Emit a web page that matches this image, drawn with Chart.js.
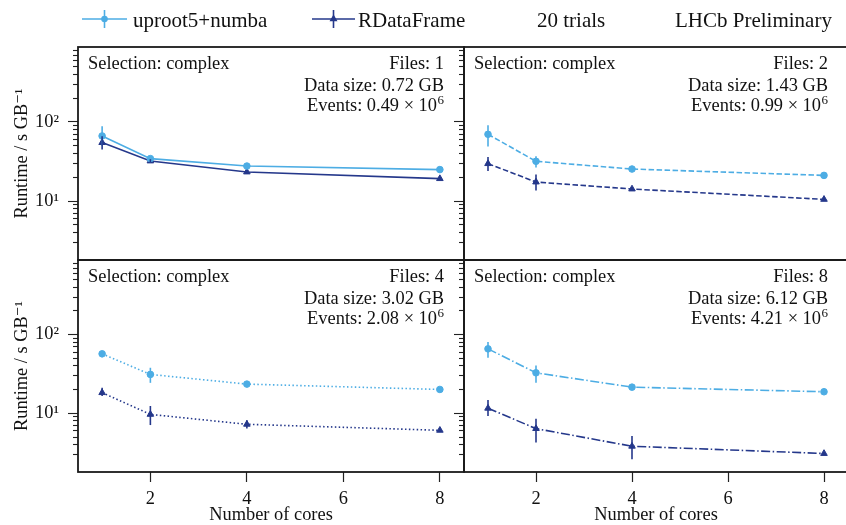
<!DOCTYPE html>
<html><head><meta charset="utf-8">
<script src="https://cdn.jsdelivr.net/npm/chart.js@4.4.1/dist/chart.umd.min.js"></script>
<style>
html,body{margin:0;padding:0;background:#fff;overflow:hidden;width:846px;height:525px;position:relative;}
canvas{position:absolute;}
</style></head><body>
<canvas id="c1" width="846" height="265" style="left:0px;top:0px"></canvas>
<canvas id="c2" width="410" height="225" style="left:440px;top:40px"></canvas>
<canvas id="c3" width="470" height="271" style="left:0px;top:255px"></canvas>
<canvas id="c4" width="410" height="271" style="left:440px;top:255px"></canvas>
<script>
// ---- data ----
const cores = [1, 2, 4, 8];
const xTickValues = [2, 4, 6, 8];
const seriesNames = ['uproot5+numba', 'RDataFrame'];
const extraLabels = ['20 trials', 'LHCb Preliminary'];
const selectionLabel = 'Selection: complex';
const panelFiles = [1, 2, 4, 8];
const panelDataSize = ['0.72', '1.43', '3.02', '6.12'];
const panelEvents = ['0.49', '0.99', '2.08', '4.21'];

const uprootP1 = [66.5, 34.4, 27.7, 25.0];
const uprootP1Low = [50, 32.5, 26.8, 24.4];
const uprootP1High = [88, 36.3, 28.6, 25.6];
const rdfP1 = [54.8, 32.1, 23.3, 19.2];
const rdfP1Low = [45, 30.5, 22.4, 18.7];
const rdfP1High = [66, 33.8, 24.3, 19.7];

const uprootP2 = [69.8, 31.8, 25.4, 21.1];
const uprootP2Low = [49, 26.5, 24.4, 20.5];
const uprootP2High = [91, 36.9, 26.4, 21.7];
const rdfP2 = [29.7, 17.4, 14.2, 10.5];
const rdfP2Low = [23.9, 13.6, 13.6, 10.1];
const rdfP2High = [36.1, 21.6, 14.8, 10.9];

const uprootP3 = [57, 31.2, 23.5, 20.1];
const uprootP3Low = [51.6, 24.4, 22.4, 19.6];
const uprootP3High = [61.3, 37.9, 24.6, 20.6];
const rdfP3 = [18.3, 9.7, 7.26, 6.09];
const rdfP3Low = [16.6, 7.1, 6.4, 5.9];
const rdfP3High = [21.1, 12.4, 8.2, 6.3];

const uprootP4 = [65.9, 32.7, 21.5, 18.8];
const uprootP4Low = [50.7, 24.5, 20.5, 18.3];
const uprootP4High = [80.8, 40.5, 22.5, 19.3];
const rdfP4 = [11.6, 6.4, 3.82, 3.09];
const rdfP4Low = [9.25, 4.25, 2.62, 3.0];
const rdfP4High = [14.8, 8.56, 5.16, 3.2];

// ---- styles ----
const SERIF = "'Liberation Serif', 'Times New Roman', 'DejaVu Serif', serif";
const UP = '#4DADE4';
const RD = '#25388B';
const INK = '#111111';
Chart.defaults.font.family = SERIF;
Chart.defaults.font.size = 18.4;
Chart.defaults.color = INK;

const SUP = {'0':'⁰','1':'¹','2':'²','3':'³','4':'⁴','5':'⁵','6':'⁶','7':'⁷','8':'⁸','9':'⁹','-':'⁻'};
function sup(n){ return String(n).split('').map(c => SUP[c] || c).join(''); }
function isPow10(v){ const l = Math.log10(v); return Math.abs(l - Math.round(l)) < 1e-9; }
function isDecadeMultiple(v){
  const p = Math.pow(10, Math.floor(Math.log10(v) + 1e-9));
  const m = v / p;
  return Math.abs(m - Math.round(m)) < 1e-6;
}

const framePlugin = {
  id: 'frame',
  afterDraw(chart){
    const a = chart.chartArea, ctx = chart.ctx;
    ctx.save();
    ctx.strokeStyle = '#1a1a1a';
    ctx.lineWidth = 1.8;
    ctx.setLineDash([]);
    ctx.strokeRect(a.left, a.top, a.right - a.left, a.bottom - a.top);
    ctx.restore();
  }
};

const errorBarPlugin = {
  id: 'errorBars',
  afterDatasetsDraw(chart){
    const ctx = chart.ctx, xs = chart.scales.x, ys = chart.scales.y;
    ctx.save();
    chart.data.datasets.forEach(ds => {
      ctx.strokeStyle = ds.borderColor;
      ctx.lineWidth = 1.6;
      ctx.setLineDash([]);
      ds.data.forEach((pt, i) => {
        const x = xs.getPixelForValue(pt.x);
        ctx.beginPath();
        ctx.moveTo(x, ys.getPixelForValue(ds.errLow[i]));
        ctx.lineTo(x, ys.getPixelForValue(ds.errHigh[i]));
        ctx.stroke();
      });
    });
    ctx.restore();
  }
};

const panelTextPlugin = {
  id: 'panelText',
  afterDraw(chart, args, opts){
    const i = opts.index;
    const a = chart.chartArea, ctx = chart.ctx;
    ctx.save();
    ctx.fillStyle = INK;
    ctx.textBaseline = 'alphabetic';
    ctx.font = '18.4px ' + SERIF;
    ctx.textAlign = 'left';
    ctx.fillText(selectionLabel, a.left + 10, a.top + 22);
    ctx.textAlign = 'right';
    const rx = a.right - 20;
    ctx.fillText('Files: ' + panelFiles[i], rx, a.top + 22);
    ctx.fillText('Data size: ' + panelDataSize[i] + ' GB', rx, a.top + 43.5);
    ctx.font = '13px ' + SERIF;
    const ws = ctx.measureText('6').width;
    ctx.fillText('6', rx, a.top + 64 - 7.5);
    ctx.font = '18.4px ' + SERIF;
    ctx.fillText('Events: ' + panelEvents[i] + ' × 10', rx - ws - 0.5, a.top + 64);
    ctx.restore();
  }
};

const legendPlugin = {
  id: 'topLegend',
  afterDraw(chart, args, opts){
    if (!opts.show) return;
    const ctx = chart.ctx;
    const ds = chart.data.datasets;
    const items = [
      {x0: 82, x1: 127, tx: 133, d: ds[0]},
      {x0: 312, x1: 355, tx: 358, d: ds[1]}
    ];
    ctx.save();
    const y = 19;
    items.forEach(it => {
      const c = it.d.borderColor;
      const mx = (it.x0 + it.x1) / 2;
      ctx.strokeStyle = c; ctx.fillStyle = c; ctx.lineWidth = 1.6; ctx.setLineDash([]);
      ctx.beginPath(); ctx.moveTo(it.x0, y); ctx.lineTo(it.x1, y); ctx.stroke();
      ctx.beginPath(); ctx.moveTo(mx, y - 9); ctx.lineTo(mx, y + 9); ctx.stroke();
      Chart.helpers.drawPoint(ctx, {pointStyle: it.d.pointStyle, radius: it.d.pointRadius - 0.8, rotation: 0, borderWidth: 1}, mx, y);
      ctx.fillStyle = INK;
      ctx.font = '21px ' + SERIF;
      ctx.textAlign = 'left'; ctx.textBaseline = 'alphabetic';
      ctx.fillText(it.d.label, it.tx, 26.5);
    });
    ctx.fillStyle = INK;
    ctx.font = '21px ' + SERIF;
    ctx.fillText(extraLabels[0], 537, 26.5);
    ctx.fillText(extraLabels[1], 675, 26.5);
    ctx.restore();
  }
};

const panels = [
  {id: 'c1', up: uprootP1, upLo: uprootP1Low, upHi: uprootP1High, rd: rdfP1, rdLo: rdfP1Low, rdHi: rdfP1High,
   left: true, bottom: false, padding: {left: 0, top: 47, right: 382, bottom: 5}, dash: [], legend: true},
  {id: 'c2', up: uprootP2, upLo: uprootP2Low, upHi: uprootP2High, rd: rdfP2, rdLo: rdfP2Low, rdHi: rdfP2High,
   left: false, bottom: false, padding: {left: 0, top: 7, right: 2, bottom: 5}, dash: [5.5, 2.5], legend: false},
  {id: 'c3', up: uprootP3, upLo: uprootP3Low, upHi: uprootP3High, rd: rdfP3, rdLo: rdfP3Low, rdHi: rdfP3High,
   left: true, bottom: true, padding: {left: 0, top: 5, right: 6, bottom: 0}, dash: [1.5, 2.4], legend: false},
  {id: 'c4', up: uprootP4, upLo: uprootP4Low, upHi: uprootP4High, rd: rdfP4, rdLo: rdfP4Low, rdHi: rdfP4High,
   left: false, bottom: true, padding: {left: 0, top: 5, right: 2, bottom: 0}, dash: [9, 2.5, 1.5, 2.5], legend: false}
];

function zeroPad(s){ s.paddingLeft = 0; s.paddingRight = 0; s.paddingTop = 0; s.paddingBottom = 0; }

panels.forEach((p, idx) => {
  new Chart(document.getElementById(p.id), {
    type: 'line',
    data: {
      datasets: [
        {label: seriesNames[0], data: cores.map((c, i) => ({x: c, y: p.up[i]})), errLow: p.upLo, errHigh: p.upHi,
         borderColor: UP, backgroundColor: UP, pointBackgroundColor: UP, pointBorderColor: UP,
         pointStyle: 'circle', pointRadius: 3.3, pointBorderWidth: 1, borderWidth: 1.6, borderDash: p.dash, tension: 0, fill: false},
        {label: seriesNames[1], data: cores.map((c, i) => ({x: c, y: p.rd[i]})), errLow: p.rdLo, errHigh: p.rdHi,
         borderColor: RD, backgroundColor: RD, pointBackgroundColor: RD, pointBorderColor: RD,
         pointStyle: 'triangle', pointRadius: 3.8, pointBorderWidth: 1, borderWidth: 1.6, borderDash: p.dash, tension: 0, fill: false}
      ]
    },
    options: {
      responsive: false, animation: false, devicePixelRatio: 1, events: [],
      layout: {padding: p.padding, autoPadding: false},
      plugins: {legend: {display: false}, tooltip: {enabled: false}, title: {display: false},
                panelText: {index: idx}, topLegend: {show: p.legend}},
      scales: {
        x: {
          type: 'linear', min: 0.5, max: 8.5,
          afterBuildTicks: s => { s.ticks = xTickValues.map(v => ({value: v})); },
          afterFit: s => { s.height = p.bottom ? 54 : 0; zeroPad(s); },
          border: {display: false},
          grid: {display: true, drawOnChartArea: false, drawTicks: p.bottom, tickLength: 10, tickColor: '#222', tickWidth: 1.2},
          ticks: {display: p.bottom, padding: 6, maxRotation: 0, autoSkip: false, color: INK},
          title: {display: p.bottom, text: 'Number of cores', padding: {top: 0, bottom: 0}, color: INK}
        },
        y: {
          type: 'logarithmic', min: 1.8, max: 885,
          afterBuildTicks: s => { s.ticks = s.ticks.filter(t => isDecadeMultiple(t.value)); },
          afterFit: s => { s.width = p.left ? 78 : 24; zeroPad(s); },
          border: {display: false},
          grid: {display: true, drawOnChartArea: false, drawTicks: true, tickLength: 10, tickColor: '#222', tickWidth: 1.1,
                 tickBorderDash: c => (c.tick && !isPow10(c.tick.value)) ? [20, 100] : [],
                 tickBorderDashOffset: c => (c.tick && !isPow10(c.tick.value)) ? 115 : 0},
          ticks: {display: p.left, autoSkip: false, padding: 9, color: INK,
                  callback: v => isPow10(v) ? ('10' + sup(Math.round(Math.log10(v)))) : ''},
          title: {display: p.left, text: 'Runtime / s GB⁻¹', padding: {top: 11, bottom: 0}, color: INK}
        }
      }
    },
    plugins: [framePlugin, errorBarPlugin, panelTextPlugin, legendPlugin]
  });
});
</script>
</body></html>
